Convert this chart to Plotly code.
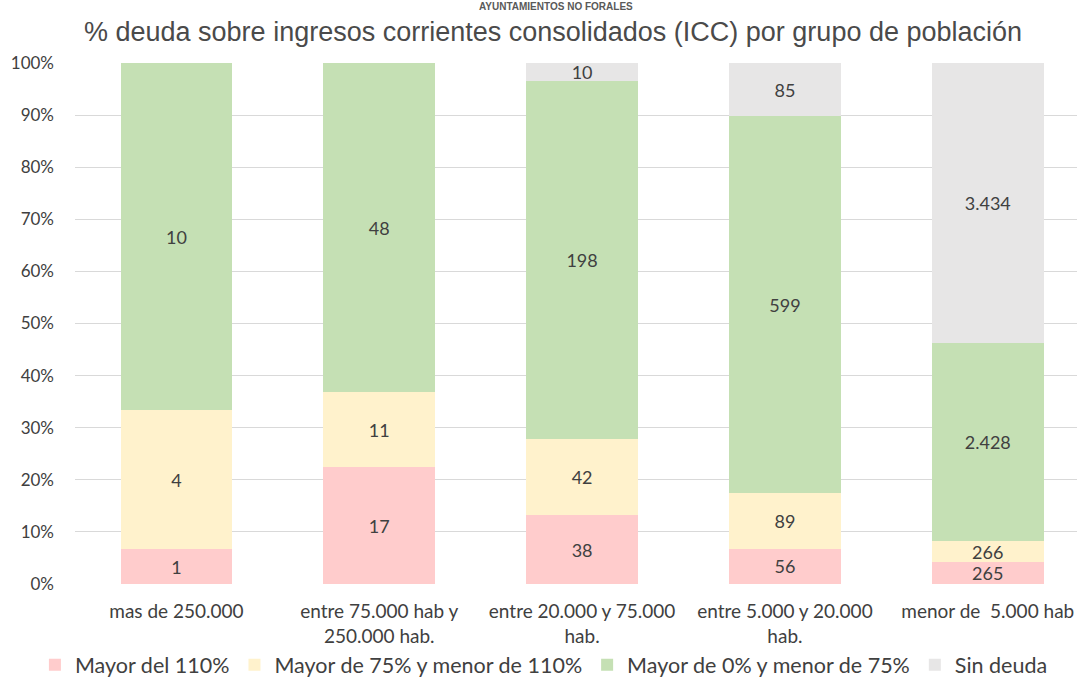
import plotly.graph_objects as go

categories = ["mas de 250.000", "entre 75.000 hab y<br>250.000 hab.", "entre 20.000 y 75.000<br>hab.",
              "entre 5.000 y 20.000<br>hab.", "menor de  5.000 hab"]
series_names = ["Mayor del 110%", "Mayor de 75% y menor de 110%", "Mayor de 0% y menor de 75%", "Sin deuda"]
mayor_110 = [1, 17, 38, 56, 265]
entre_75_110 = [4, 11, 42, 89, 266]
entre_0_75 = [10, 48, 198, 599, 2428]
sin_deuda = [0, 0, 10, 85, 3434]
colors = ["#FFCCCC", "#FFF2CC", "#C5E0B4", "#E7E6E6"]
ticks = [0, 10, 20, 30, 40, 50, 60, 70, 80, 90, 100]

def fmt(v):
    return "" if v == 0 else f"{v:,}".replace(",", ".")

fig = go.Figure()
for name, vals, col in zip(series_names, [mayor_110, entre_75_110, entre_0_75, sin_deuda], colors):
    fig.add_trace(go.Bar(
        x=list(range(len(categories))), y=vals, name=name, marker=dict(color=col, line=dict(width=0)),
        text=[fmt(v) for v in vals], textposition="inside", insidetextanchor="middle", textangle=0,
        textfont=dict(family="Lato, sans-serif", size=18, color="#404040"),
        width=0.55, cliponaxis=False,
    ))

W, H = 1077, 680
fig.update_layout(
    barmode="stack", barnorm="percent",
    width=W, height=H,
    margin=dict(l=75, r=0, t=63, b=96, autoexpand=False),
    paper_bgcolor="white", plot_bgcolor="white",
    uniformtext=dict(minsize=17, mode="show"),
    showlegend=True,
    legend=dict(orientation="h", x=-0.04, xanchor="left", yref="paper", y=-0.155, yanchor="middle",
                font=dict(family="Lato, sans-serif", size=21.5, color="#404040"),
                traceorder="normal", itemwidth=30, tracegroupgap=0),
    xaxis=dict(tickmode="array", tickvals=list(range(len(categories))), ticktext=categories,
               range=[-0.5, 4.44], showgrid=False, zeroline=False, showline=False, automargin=False,
               ticklabelstandoff=14,
               tickfont=dict(family="Lato, sans-serif", size=19, color="#404040")),
    yaxis=dict(range=[0, 100], tickvals=ticks, ticktext=[f"{t}%" for t in ticks],
               showgrid=True, gridcolor="#D9D9D9", gridwidth=1, zeroline=False, automargin=False,
               ticklabelstandoff=20,
               tickfont=dict(family="Lato, sans-serif", size=17, color="#404040")),
)
fig.add_annotation(text="<b>AYUNTAMIENTOS NO FORALES</b>", xref="paper", yref="paper", x=0.48, y=1.0,
                   yshift=63, showarrow=False, yanchor="top", borderpad=0,
                   font=dict(family="Liberation Sans, sans-serif", size=10, color="#595959"))
fig.add_annotation(text="% deuda sobre ingresos corrientes consolidados (ICC) por grupo de población",
                   xref="paper", yref="paper", x=0.477, y=1.0, yshift=31, showarrow=False, yanchor="middle",
                   font=dict(family="Liberation Sans, sans-serif", size=27, color="#4a4a4a"))
fig.write_html("out.html", config={"displayModeBar": False},
               post_script="document.body.style.margin='0';")
